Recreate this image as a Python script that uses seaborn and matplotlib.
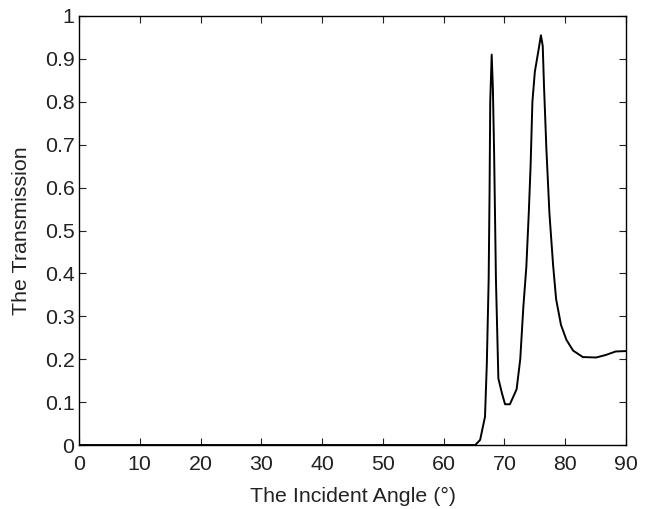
import numpy as np
import pandas as pd
import matplotlib
matplotlib.use("Agg")
import matplotlib.pyplot as plt
import seaborn as sns

# incident angle (deg) and transmission
angle = [0, 10, 20, 30, 40, 50, 60, 65.2, 66.0, 66.8, 67.1, 67.4, 67.55, 67.66,
         67.9, 68.1, 68.3, 68.6, 69.0, 69.6, 70.1, 70.9, 72.0, 72.6, 73.1,
         73.6, 74.0, 74.3, 74.6, 75.0, 75.3, 75.6, 76.0, 76.3, 76.5, 76.9,
         77.4, 78.0, 78.5, 79.3, 80.2, 81.3, 82.9, 85.1, 86.7, 88.3, 90.0]
transmission = [0, 0, 0, 0, 0, 0, 0, 0, 0.012, 0.066, 0.19, 0.385, 0.59, 0.80,
                0.91, 0.83, 0.68, 0.385, 0.155, 0.12, 0.095, 0.095, 0.13, 0.20,
                0.32, 0.415, 0.54, 0.65, 0.80, 0.87, 0.895, 0.92, 0.955, 0.93,
                0.84, 0.69, 0.54, 0.42, 0.34, 0.28, 0.245, 0.22, 0.205, 0.204,
                0.21, 0.218, 0.219]
xticks = np.arange(0, 91, 10)
yticks = np.round(np.arange(0, 1.01, 0.1), 1)
ytick_labels = ["0"] + ["%.1f" % v for v in yticks[1:-1]] + ["1"]

df = pd.DataFrame({"angle": angle, "T": transmission})

sns.set_theme(style="ticks")
plt.rcParams["font.family"] = ["Liberation Sans", "DejaVu Sans"]

fig = plt.figure(figsize=(6.51, 5.09), dpi=100)
ax = fig.add_axes([0.1214, 0.1257, 0.8402, 0.8429])
sns.lineplot(data=df, x="angle", y="T", color="black", linewidth=1.4, ax=ax)

ax.set_xlim(0, 90)
ax.set_ylim(0, 1)
ax.set_xticks(xticks)
ax.set_yticks(yticks)
ax.set_yticklabels(ytick_labels)
ax.tick_params(direction="in", top=True, right=True, length=5, width=0.8,
               labelsize=15.4, colors="#222222")
ax.tick_params(axis="y", pad=3.2)
ax.tick_params(axis="x", pad=7)
for s in ax.spines.values():
    s.set_color("black")
    s.set_linewidth(1.0)
ax.set_xlabel("The Incident Angle (°)", fontsize=15.4, color="#222222")
ax.set_ylabel("The Transmission", fontsize=15.4, color="#222222")
ax.xaxis.set_label_coords(0.5, -0.097)
ax.yaxis.set_label_coords(-0.088, 0.5)

fig.savefig("out.png", dpi=100)
